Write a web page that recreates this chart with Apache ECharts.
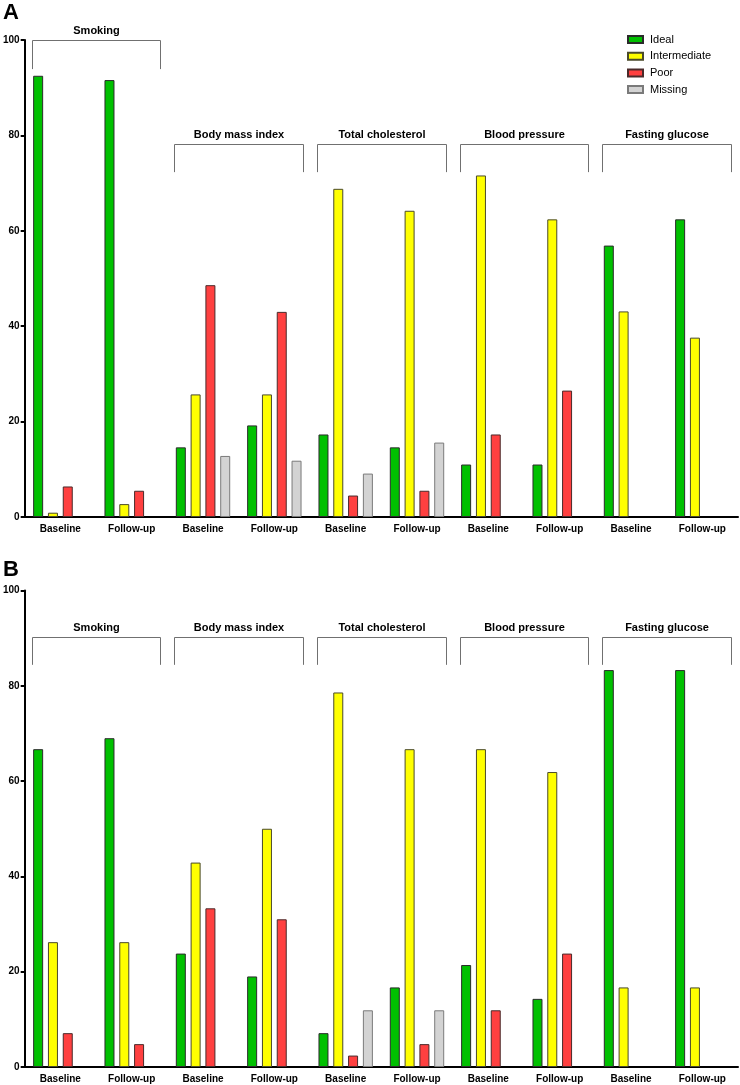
<!DOCTYPE html>
<html><head><meta charset="utf-8">
<script src="https://cdn.jsdelivr.net/npm/echarts@6/dist/echarts.min.js"></script>
<style>html,body{margin:0;padding:0;background:#fff}#c{width:740px;height:1085px}</style>
</head><body><div id="c"></div>
<script>
var categories = ['Baseline','Follow-up','Baseline','Follow-up','Baseline','Follow-up','Baseline','Follow-up','Baseline','Follow-up'];
var groupNames = ['Smoking','Body mass index','Total cholesterol','Blood pressure','Fasting glucose'];
var seriesNames = ['Ideal','Intermediate','Poor','Missing'];
var yTicks = [0,20,40,60,80,100];

// Panel A
var aIdeal        = [92.5, 91.6, 14.6, 19.2, 17.3, 14.6, 11.0, 11.0, 56.9, 62.4];
var aIntermediate = [0.9, 2.7, 25.7, 25.7, 68.8, 64.2, 71.6, 62.4, 43.1, 37.6];
var aPoor         = [6.4, 5.5, 48.6, 43.0, 4.5, 5.5, 17.3, 26.5, null, null];
var aMissing      = [null, null, 12.8, 11.8, 9.1, 15.6, null, null, null, null];
// bracket heights (top, bottom) per group, panel A
var aBracketTop    = [100, 78.2, 78.2, 78.2, 78.2];
var aBracketBottom = [93.9, 72.3, 72.3, 72.3, 72.3];

// Panel B
var bIdeal        = [66.7, 69.0, 23.8, 19.0, 7.1, 16.7, 21.4, 14.3, 83.3, 83.3];
var bIntermediate = [26.2, 26.2, 42.9, 50.0, 78.6, 66.7, 66.7, 61.9, 16.7, 16.7];
var bPoor         = [7.1, 4.8, 33.3, 31.0, 2.4, 4.8, 11.9, 23.8, null, null];
var bMissing      = [null, null, null, null, 11.9, 11.9, null, null, null, null];
var bBracketTop    = [90.2, 90.2, 90.2, 90.2, 90.2];
var bBracketBottom = [84.4, 84.4, 84.4, 84.4, 84.4];

var fills   = ['#00c000', '#ffff00', '#ff4040', '#d3d3d3'];
var borders = ['#2a2a2a', '#4a4a2a', '#4a2a2a', '#7a7a7a'];

var chart = echarts.init(document.getElementById('c'), null, {renderer:'canvas'});
var FONT = 'Liberation Sans, Arial, sans-serif';

function bars(gi, arrs){
  return arrs.map(function(d, i){
    return {
      name: seriesNames[i], type:'bar', xAxisIndex: gi, yAxisIndex: gi,
      data: d, barWidth: 10, barGap: '48%',
      itemStyle: {color: fills[i], borderColor: borders[i], borderWidth: 1},
      emphasis: {disabled: true}, animation: false
    };
  });
}
function brackets(gi, tops, bottoms){
  var data = groupNames.map(function(n, k){ return [2*k, 2*k+1, tops[k], bottoms[k]]; });
  return {
    type:'custom', xAxisIndex: gi, yAxisIndex: gi, silent: true, animation: false,
    data: data, encode: {x:[0,1], y:[2,3]},
    renderItem: function(params, api){
      var c0 = api.value(0), c1 = api.value(1), t = api.value(2), b = api.value(3);
      var bw = api.size([1,0])[0];
      var p0 = api.coord([c0, t]), p1 = api.coord([c1, t]);
      var pb = api.coord([c0, b]);
      var x0 = Math.round(p0[0] - bw*0.40) + 0.5, x1 = Math.round(p1[0] + bw*0.40) + 0.5;
      var yt = Math.round(p0[1]) + 0.5, yb = pb[1];
      var style = {stroke:'#707070', lineWidth:1, fill:null};
      return {type:'group', children:[
        {type:'polyline', shape:{points:[[x0,yb],[x0,yt],[x1,yt],[x1,yb]]}, style: style},
        {type:'text', style:{text: groupNames[params.dataIndex], x:(x0+x1)/2, y: yt-10,
          align:'center', verticalAlign:'middle', font:'bold 11px '+FONT, fill:'#000'}}
      ]};
    }
  };
}

function xAx(gi){
  return {type:'category', gridIndex: gi, data: categories,
    axisLine:{show:true, lineStyle:{color:'#000', width:2}},
    axisTick:{show:false},
    axisLabel:{color:'#000', fontWeight:'bold', fontSize:10, fontFamily:FONT, margin:7, interval:0}};
}
function yAx(gi){
  return {type:'value', gridIndex: gi, min: yTicks[0], max: yTicks[yTicks.length-1], interval: 20,
    splitLine:{show:false},
    axisLine:{show:true, lineStyle:{color:'#000', width:2}},
    axisTick:{show:true, length:4, lineStyle:{color:'#000', width:2}},
    axisLabel:{color:'#000', fontWeight:'bold', fontSize:10, fontFamily:FONT, margin:5}};
}

var option = {
  backgroundColor:'#fff',
  animation:false,
  textStyle:{fontFamily:FONT},
  graphic:[
    {type:'text', left:3, top:2, style:{text:'A', font:'bold 22px '+FONT, fill:'#000'}},
    {type:'text', left:3, top:559, style:{text:'B', font:'bold 22px '+FONT, fill:'#000'}}
  ],
  legend:{
    data: seriesNames, orient:'vertical', left: 622, top: 29, padding: 5,
    itemWidth: 15, itemHeight: 7, itemGap: 5.7, icon:'rect',
    textStyle:{fontSize:11, color:'#000', fontFamily:FONT, padding:[0,0,0,2]},
    selectedMode:false
  },
  grid:[
    {left:23, right:2, top:40, height:477},
    {left:23, right:2, top:590.5, height:476.5}
  ],
  xAxis:[xAx(0), xAx(1)],
  yAxis:[yAx(0), yAx(1)],
  series: [].concat(
    bars(0, [aIdeal, aIntermediate, aPoor, aMissing]),
    [brackets(0, aBracketTop, aBracketBottom)],
    bars(1, [bIdeal, bIntermediate, bPoor, bMissing]),
    [brackets(1, bBracketTop, bBracketBottom)]
  )
};
chart.setOption(option);
</script></body></html>
